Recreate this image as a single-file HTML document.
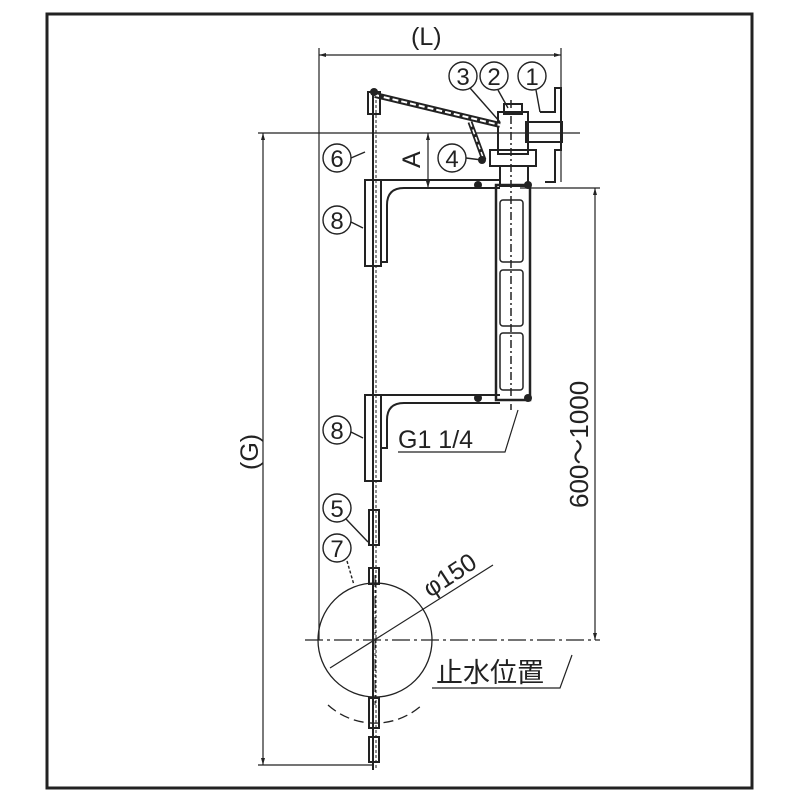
<!DOCTYPE html>
<html><head><meta charset="utf-8"><style>html,body{margin:0;padding:0;background:#fff}svg{display:block}</style></head>
<body>
<svg width="800" height="800" viewBox="0 0 800 800" xmlns="http://www.w3.org/2000/svg" font-family="Liberation Sans, Noto Sans CJK JP, sans-serif" fill="none" stroke="#222">
<rect x="47" y="14" width="705" height="774" stroke-width="3"/>
<g stroke-width="1.2">
<line x1="319" y1="48" x2="319" y2="640"/>
<line x1="561" y1="48" x2="561" y2="182"/>
<line x1="319" y1="55" x2="561" y2="55"/>
<line x1="258" y1="133" x2="580" y2="133"/>
<line x1="263" y1="133" x2="263" y2="765"/>
<line x1="258" y1="765" x2="372" y2="765"/>
<line x1="520" y1="188" x2="600" y2="188"/>
<line x1="595" y1="188" x2="595" y2="640"/>
<line x1="428" y1="133" x2="428" y2="188"/>
<line x1="305" y1="640" x2="600" y2="640" stroke-dasharray="18,4,3,4"/>
</g>
<g fill="#222" stroke="none">
<path d="M319 55 l7 -2 v4z M561 55 l-7 -2 v4z M263 133 l-2 7 h4z M263 765 l-2 -7 h4z M595 188 l-2 7 h4z M595 640 l-2 -7 h4z M428 133 l-2 7 h4z M428 188 l-2 -7 h4z"/>
</g>
<g fill="#222" stroke="none" font-size="25">
<text x="411" y="45">(L)</text>
<text transform="translate(258,470) rotate(-90)">(G)</text>
<text transform="translate(588,508) rotate(-90)" font-size="26">600～1000</text>
<text transform="translate(420,168) rotate(-90)">A</text>
<text x="398" y="448">G1 1/4</text>
<text x="436" y="682" font-size="27">止水位置</text>
<text transform="translate(430,598) rotate(-33)">φ150</text>
</g>
<g stroke-width="1.2">
<polyline points="398,452 505,452 518,410"/>
<polyline points="432,688 560,688 572,655"/>
<line x1="330" y1="668" x2="493" y2="565"/>
</g>
<line x1="373" y1="90" x2="373" y2="770" stroke-width="2"/>
<line x1="376" y1="90" x2="376" y2="770" stroke-width="1" stroke-dasharray="3,2"/>
<g stroke-width="2">
<rect x="365" y="180" width="16" height="86"/>
<line x1="381" y1="180" x2="500" y2="180"/>
<path d="M381 262 h6 V205 q0 -17 17 -17 H500"/>
<rect x="365" y="395" width="16" height="86"/>
<line x1="381" y1="395" x2="500" y2="395"/>
<path d="M381 448 h6 V420 q0 -17 17 -17 H500"/>
</g>
<g stroke-width="2.5">
<rect x="496" y="185" width="34" height="215"/>
</g>
<g stroke-width="1.5">
<rect x="500" y="200" width="23" height="62" rx="3"/>
<rect x="500" y="270" width="23" height="56" rx="3"/>
<rect x="500" y="333" width="23" height="57" rx="3"/>
<line x1="511" y1="100" x2="511" y2="410" stroke-dasharray="8,3,2,3"/>
</g>
<g stroke-width="2">
<rect x="498" y="112" width="30" height="42"/>
<rect x="504" y="104" width="18" height="10"/>
<rect x="490" y="150" width="46" height="16"/>
<rect x="500" y="166" width="28" height="20"/>
<rect x="526" y="122" width="36" height="20"/>
<polyline points="540,112 555,112 555,88 561,88 561,150 555,150 555,182 545,182"/>
<path d="M375 95 L500 125" stroke-width="6"/>
<path d="M375 95 L500 125" stroke="#fff" stroke-width="2" stroke-dasharray="6,3"/>
<path d="M470 122 L484 160" stroke-width="5"/>
<path d="M470 122 L484 160" stroke="#fff" stroke-width="1.5" stroke-dasharray="5,3"/>
<rect x="368" y="92" width="12" height="22"/>
</g>
<g fill="#222" stroke="none">
<circle cx="374" cy="92" r="4"/><circle cx="478" cy="185" r="4"/><circle cx="478" cy="398" r="4"/><circle cx="528" cy="398" r="4"/><circle cx="528" cy="185" r="4"/><circle cx="482" cy="160" r="4"/>
</g>
<g stroke-width="2">
<rect x="369" y="510" width="10" height="35"/>
<rect x="369" y="568" width="10" height="16"/>
<rect x="369" y="698" width="10" height="30"/>
<rect x="369" y="737" width="10" height="25"/>
</g>
<circle cx="375" cy="640" r="57" stroke-width="1.3"/>
<path d="M328 705 A70 70 0 0 0 422 705" stroke-width="1.3" stroke-dasharray="10,5"/>
<line x1="375" y1="575" x2="375" y2="705" stroke-width="1" stroke-dasharray="12,3,3,3"/>
<g stroke-width="1.4">
<circle cx="337" cy="158" r="14"/><circle cx="337" cy="220" r="14"/><circle cx="337" cy="430" r="14"/>
<circle cx="337" cy="508" r="14"/><circle cx="337" cy="548" r="14"/><circle cx="452" cy="158" r="14"/>
<circle cx="463" cy="76" r="14"/><circle cx="494" cy="76" r="14"/><circle cx="532" cy="76" r="14"/>
<polyline points="351,158 365,152"/><polyline points="351,222 363,228"/><polyline points="351,432 363,438"/>
<polyline points="346,519 368,542"/><polyline points="347,561 354,585" stroke-dasharray="3,2"/>
<polyline points="466,158 482,160"/><polyline points="470,88 500,122"/><polyline points="498,90 508,108"/><polyline points="536,90 540,112"/>
</g>
<g fill="#222" stroke="none" font-size="24" text-anchor="middle">
<text x="337" y="167">6</text><text x="337" y="229">8</text><text x="337" y="439">8</text>
<text x="337" y="517">5</text><text x="337" y="557">7</text><text x="452" y="167">4</text>
<text x="463" y="85">3</text><text x="494" y="85">2</text><text x="532" y="85">1</text>
</g>
</svg>
</body></html>
